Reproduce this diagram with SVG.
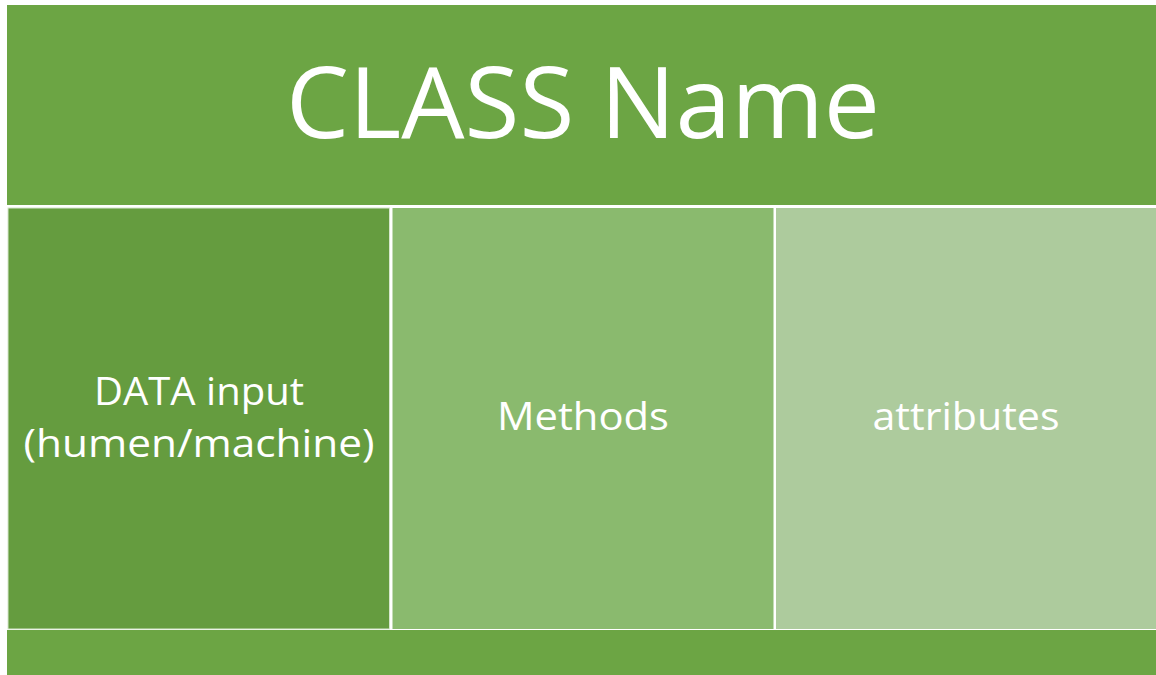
<svg xmlns="http://www.w3.org/2000/svg" width="1156" height="675" viewBox="0 0 1156 675">
<style>
.t{font-family:"Open Sans","Liberation Sans",sans-serif;fill:#ffffff;text-anchor:middle}
.cell{font-size:38px}
</style>
<rect x="0" y="0" width="1156" height="675" fill="#ffffff"/>
<g id="header">
<rect x="7" y="5" width="1149" height="200" fill="#6ca544"/>
<text class="t" x="583" y="138" font-size="98" textLength="594" lengthAdjust="spacingAndGlyphs">CLASS Name</text>
</g>
<g id="data-input">
<rect x="8" y="208" width="381.5" height="421" fill="#659c3f" stroke="#d6e6cc" stroke-width="1"/>
<text class="t cell" x="199" y="405" textLength="210" lengthAdjust="spacingAndGlyphs">DATA input</text>
<text class="t cell" x="199" y="457" textLength="351" lengthAdjust="spacingAndGlyphs">(humen/machine)</text>
</g>
<g id="methods">
<rect x="392.5" y="208" width="381" height="421" fill="#8aba6e"/>
<text class="t cell" x="583" y="430" textLength="172" lengthAdjust="spacingAndGlyphs">Methods</text>
</g>
<g id="attributes">
<rect x="776" y="208" width="380" height="421" fill="#adcb9d"/>
<text class="t cell" x="966" y="430" textLength="187" lengthAdjust="spacingAndGlyphs">attributes</text>
</g>
<g id="footer">
<rect x="7" y="630" width="1149" height="45" fill="#6ca544"/>
</g>
<g id="connectors"></g>
</svg>
